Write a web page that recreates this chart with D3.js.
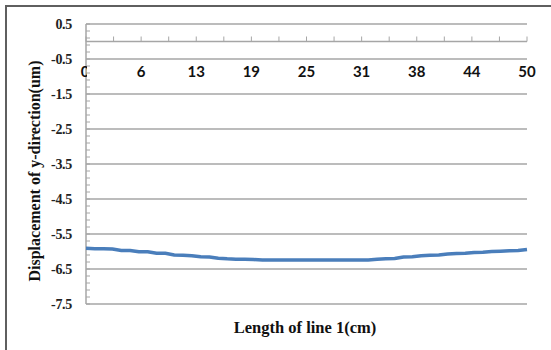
<!DOCTYPE html>
<html>
<head>
<meta charset="utf-8">
<script src="https://cdn.jsdelivr.net/npm/d3@7"></script>
<style>
  body { margin: 0; background: #fff; }
  svg { display: block; }
</style>
</head>
<body>
<svg id="chart" width="551" height="350"></svg>
<script>
// positions along line 1 (cm) and y displacement (um)
const lengths = d3.range(0, 51);
const displacement = [
  -5.91, -5.92, -5.92, -5.93, -5.97, -5.97, -6.01, -6.01, -6.05, -6.05,
  -6.10, -6.11, -6.12, -6.15, -6.16, -6.19, -6.21, -6.22, -6.22, -6.23,
  -6.24, -6.24, -6.24, -6.24, -6.24, -6.24, -6.24, -6.24, -6.24, -6.24,
  -6.24, -6.24, -6.24, -6.22, -6.21, -6.20, -6.16, -6.15, -6.12, -6.11,
  -6.10, -6.07, -6.06, -6.05, -6.03, -6.02, -6.00, -5.99, -5.98, -5.97,
  -5.94
];
const xTicks = [0, 6.25, 12.5, 18.75, 25, 31.25, 37.5, 43.75, 50];
const yTicks = [0.5, -0.5, -1.5, -2.5, -3.5, -4.5, -5.5, -6.5, -7.5];

const svg = d3.select("#chart");
const plotLeft = 86, plotRight = 527, plotTop = 24, plotBottom = 304;

const x = d3.scaleLinear().domain([0, 50]).range([plotLeft, plotRight]);
const y = d3.scaleLinear().domain([-7.5, 0.5]).range([plotBottom, plotTop]);

const grid = "#a6a6a6";

// outer frame (only top and left edges are visible)
svg.append("rect")
  .attr("x", 6).attr("y", 6)
  .attr("width", 700).attr("height", 500)
  .attr("fill", "none")
  .attr("stroke", "#5f5f5f")
  .attr("stroke-width", 2);

// horizontal gridlines
svg.append("g")
  .selectAll("line")
  .data(yTicks)
  .join("line")
  .attr("x1", plotLeft).attr("x2", plotRight)
  .attr("y1", (d) => y(d)).attr("y2", (d) => y(d))
  .attr("stroke", grid)
  .attr("stroke-width", 1.5);

// y axis line with minor ticks every 0.2
svg.append("line")
  .attr("x1", plotLeft).attr("x2", plotLeft)
  .attr("y1", plotTop).attr("y2", plotBottom)
  .attr("stroke", grid).attr("stroke-width", 1.5);

svg.append("g")
  .selectAll("line")
  .data(d3.range(0, 41).map((i) => 0.5 - i * 0.2))
  .join("line")
  .attr("x1", plotLeft).attr("x2", plotLeft + 4)
  .attr("y1", (d) => y(d)).attr("y2", (d) => y(d))
  .attr("stroke", grid).attr("stroke-width", 1);

svg.append("g")
  .selectAll("text")
  .data(yTicks)
  .join("text")
  .attr("x", 72)
  .attr("y", (d) => y(d))
  .attr("dy", "0.35em")
  .attr("text-anchor", "end")
  .attr("font-family", "Liberation Serif")
  .attr("font-weight", "bold")
  .attr("font-size", 14)
  .attr("letter-spacing", -0.3)
  .attr("fill", "#222")
  .text((d) => d);

// x axis at y = 0, ticks pointing up
const y0 = y(0);
svg.append("line")
  .attr("x1", plotLeft).attr("x2", plotRight)
  .attr("y1", y0).attr("y2", y0)
  .attr("stroke", grid).attr("stroke-width", 1.5);

svg.append("g")
  .selectAll("line")
  .data(d3.range(0, 17).map((i) => i * 3.125))
  .join("line")
  .attr("x1", (d) => x(d)).attr("x2", (d) => x(d))
  .attr("y1", y0).attr("y2", y0 - 5)
  .attr("stroke", grid).attr("stroke-width", 1);

svg.append("clipPath").attr("id", "zeroclip")
  .append("rect")
  .attr("x", 0).attr("y", 0)
  .attr("width", x(0) + 1).attr("height", 350);

svg.append("g")
  .selectAll("text")
  .data(xTicks)
  .join("text")
  .attr("x", (d) => (d === 0 ? x(d) - 1 : x(d)))
  .attr("y", 77)
  .attr("text-anchor", "middle")
  .attr("font-family", "Lato")
  .attr("font-weight", "bold")
  .attr("font-size", 15)
  .attr("fill", "#111")
  .attr("clip-path", (d) => (d === 0 ? "url(#zeroclip)" : null))
  .text((d) => Math.round(d));

// data line
svg.append("path")
  .datum(lengths)
  .attr("fill", "none")
  .attr("stroke", "#4a7ebb")
  .attr("stroke-width", 3.5)
  .attr("d", d3.line()
    .x((d) => x(d))
    .y((d, i) => y(displacement[i])));

// axis titles
svg.append("text")
  .attr("x", 305).attr("y", 333)
  .attr("text-anchor", "middle")
  .attr("font-family", "Liberation Serif")
  .attr("font-weight", "bold")
  .attr("font-size", 16.5)
  .attr("fill", "#111")
  .text("Length of line 1(cm)");

svg.append("text")
  .attr("transform", "translate(40,171) rotate(-90)")
  .attr("text-anchor", "middle")
  .attr("font-family", "Liberation Serif")
  .attr("font-weight", "bold")
  .attr("font-size", 16)
  .attr("fill", "#111")
  .text("Displacement of y-direction(um)");
</script>
</body>
</html>
